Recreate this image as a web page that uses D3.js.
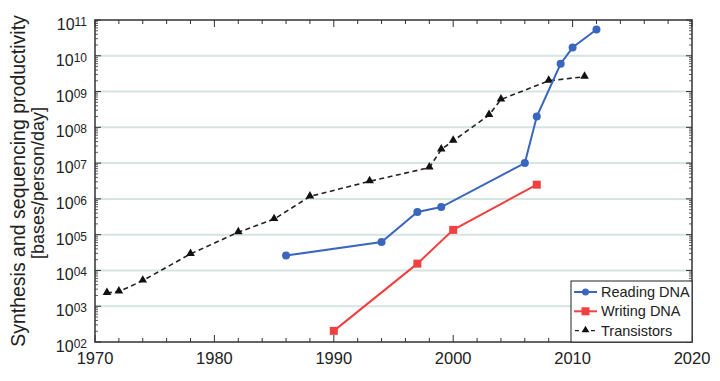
<!DOCTYPE html>
<html>
<head>
<meta charset="utf-8">
<script src="https://cdn.jsdelivr.net/npm/d3@7"></script>
<style>
  body { margin: 0; background: #fff; }
  text { font-family: "Liberation Sans", Arial, sans-serif; fill: #222; }
</style>
</head>
<body>
<div id="graph"></div>
<script>
// values
var readYears = [1986, 1994, 1997, 1999, 2006, 2007, 2009, 2010, 2012];
var readVals = [2.6e4, 6.2e4, 4.3e5, 5.9e5, 1.0e7, 2.0e8, 6.0e9, 1.7e10, 5.4e10];
var writeYears = [1990, 1997, 2000, 2007];
var writeVals = [205, 1.55e4, 1.36e5, 2.5e6];
var transYears = [1971, 1972, 1974, 1978, 1982, 1985, 1988, 1993, 1998, 1999, 2000, 2003, 2004, 2008, 2011];
var transVals = [2340, 2570, 5200, 2.9e4, 1.17e5, 2.72e5, 1.17e6, 3.1e6, 7.5e6, 2.4e7, 4.2e7, 2.2e8, 6.0e8, 2.0e9, 2.6e9];
var xTicks = [1970, 1980, 1990, 2000, 2010, 2020];
var yExps = [2, 3, 4, 5, 6, 7, 8, 9, 10, 11];
var seriesNames = ["Reading DNA", "Writing DNA", "Transistors"];

var W = 720, H = 381;
var m = {left: 95, right: 28, top: 20, bottom: 39};

var svg = d3.select("#graph").append("svg")
  .attr("width", W).attr("height", H);

var x = d3.scaleLinear().domain([1970, 2020]).range([m.left, W - m.right]);
var y = d3.scaleLog().domain([1e2, 1e11]).range([H - m.bottom, m.top]);

// gridlines at every decade
svg.append("g").selectAll("line")
  .data(yExps.slice(1, -1))
  .enter().append("line")
  .attr("x1", x(1970)).attr("x2", x(2020))
  .attr("y1", d => y(Math.pow(10, d))).attr("y2", d => y(Math.pow(10, d)))
  .attr("stroke", "#d5e5e1").attr("stroke-width", 2);

// minor log ticks
var minor = [];
for (var e = 2; e < 11; e++) for (var k = 2; k <= 9; k++) minor.push(k * Math.pow(10, e));
var axisColor = "#333";

function ticksY(xpos, dir) {
  var g = svg.append("g");
  g.selectAll(".mn").data(minor).enter().append("line")
    .attr("x1", xpos).attr("x2", xpos + dir * 3)
    .attr("y1", d => y(d)).attr("y2", d => y(d))
    .attr("stroke", axisColor).attr("stroke-width", 0.8);
  g.selectAll(".mj").data(yExps).enter().append("line")
    .attr("x1", xpos).attr("x2", xpos + dir * 6)
    .attr("y1", d => y(Math.pow(10, d))).attr("y2", d => y(Math.pow(10, d)))
    .attr("stroke", axisColor).attr("stroke-width", 1);
}
ticksY(x(1970), 1);
ticksY(x(2020), -1);

var xMinor = d3.range(1972, 2020, 2).filter(d => d % 10 !== 0);
function ticksX(ypos, dir) {
  var g = svg.append("g");
  g.selectAll(".mn").data(xMinor).enter().append("line")
    .attr("x1", d => x(d)).attr("x2", d => x(d))
    .attr("y1", ypos).attr("y2", ypos + dir * 4)
    .attr("stroke", axisColor).attr("stroke-width", 1);
  g.selectAll(".mj").data(xTicks).enter().append("line")
    .attr("x1", d => x(d)).attr("x2", d => x(d))
    .attr("y1", ypos).attr("y2", ypos + dir * 7)
    .attr("stroke", axisColor).attr("stroke-width", 1);
}
ticksX(y(1e2), -1);
ticksX(y(1e11), 1);

// frame
svg.append("rect")
  .attr("x", x(1970)).attr("y", y(1e11))
  .attr("width", x(2020) - x(1970)).attr("height", y(1e2) - y(1e11))
  .attr("fill", "none").attr("stroke", axisColor).attr("stroke-width", 1.5);

// tick labels
svg.append("g").selectAll("text").data(xTicks).enter().append("text")
  .attr("x", d => x(d)).attr("y", H - m.bottom + 22)
  .attr("text-anchor", "middle").attr("font-size", 16.5)
  .text(d => d);

var yl = svg.append("g").selectAll("text").data(yExps).enter().append("text")
  .attr("x", 87).attr("y", d => y(Math.pow(10, d)) + 10)
  .attr("text-anchor", "end").attr("font-size", 16);
yl.append("tspan").text("10");
yl.append("tspan").attr("dy", -4).attr("font-size", 12)
  .text(d => (d < 10 ? "0" : "") + d);

// axis title (two lines)
var midY = (m.top + H - m.bottom) / 2;
svg.append("text")
  .attr("transform", "translate(25," + midY + ") rotate(-90)")
  .attr("text-anchor", "middle").attr("font-size", 19.5)
  .text("Synthesis and sequencing productivity");
svg.append("text")
  .attr("transform", "translate(44," + (midY + 2) + ") rotate(-90)")
  .attr("text-anchor", "middle").attr("font-size", 18)
  .text("[bases/person/day]");

// series
var line = d3.line().x(d => x(d[0])).y(d => y(d[1]));
var tri = d3.symbol().type(d3.symbolTriangle).size(32);

var trans = d3.zip(transYears, transVals);
svg.append("path").datum(trans).attr("d", line)
  .attr("fill", "none").attr("stroke", "#222").attr("stroke-width", 1.6)
  .attr("stroke-dasharray", "5,3.5");
svg.append("g").selectAll("path").data(trans).enter().append("path")
  .attr("d", tri).attr("transform", d => "translate(" + x(d[0]) + "," + (y(d[1]) - 0.5) + ")")
  .attr("fill", "#111");

var read = d3.zip(readYears, readVals);
svg.append("path").datum(read).attr("d", line)
  .attr("fill", "none").attr("stroke", "#3a67bd").attr("stroke-width", 2);
svg.append("g").selectAll("circle").data(read).enter().append("circle")
  .attr("cx", d => x(d[0])).attr("cy", d => y(d[1])).attr("r", 4)
  .attr("fill", "#3a67bd");

var write = d3.zip(writeYears, writeVals);
svg.append("path").datum(write).attr("d", line)
  .attr("fill", "none").attr("stroke", "#f0403f").attr("stroke-width", 2);
svg.append("g").selectAll("rect").data(write).enter().append("rect")
  .attr("x", d => x(d[0]) - 4).attr("y", d => y(d[1]) - 4)
  .attr("width", 8).attr("height", 8)
  .attr("fill", "#f0403f");

// legend
var lg = svg.append("g");
var lx = 571, ly = 281;
lg.append("rect").attr("x", lx).attr("y", ly)
  .attr("width", x(2020) - lx).attr("height", y(1e2) - ly)
  .attr("fill", "#fff").attr("stroke", "#222").attr("stroke-width", 1);
var legColors = ["#3a67bd", "#f0403f", "#222"];
seriesNames.forEach(function (name, i) {
  var cy = ly + 11 + i * 19.3;
  var l = lg.append("line").attr("x1", lx + 3).attr("x2", lx + 26)
    .attr("y1", cy).attr("y2", cy)
    .attr("stroke", legColors[i]).attr("stroke-width", i === 2 ? 1.4 : 2);
  if (i === 2) l.attr("stroke-dasharray", "4,4").attr("stroke-dashoffset", -1);
  if (i === 0) lg.append("circle").attr("cx", lx + 14.5).attr("cy", cy).attr("r", 3.5).attr("fill", legColors[i]);
  if (i === 1) lg.append("rect").attr("x", lx + 10.5).attr("y", cy - 4).attr("width", 8).attr("height", 8).attr("fill", legColors[i]);
  if (i === 2) lg.append("path").attr("d", d3.symbol().type(d3.symbolTriangle).size(26))
    .attr("transform", "translate(" + (lx + 14.5) + "," + (cy - 0.5) + ")").attr("fill", "#111");
  lg.append("text").attr("x", lx + 30).attr("y", cy + 5)
    .attr("font-size", 14.5).text(name);
});
</script>
</body>
</html>
